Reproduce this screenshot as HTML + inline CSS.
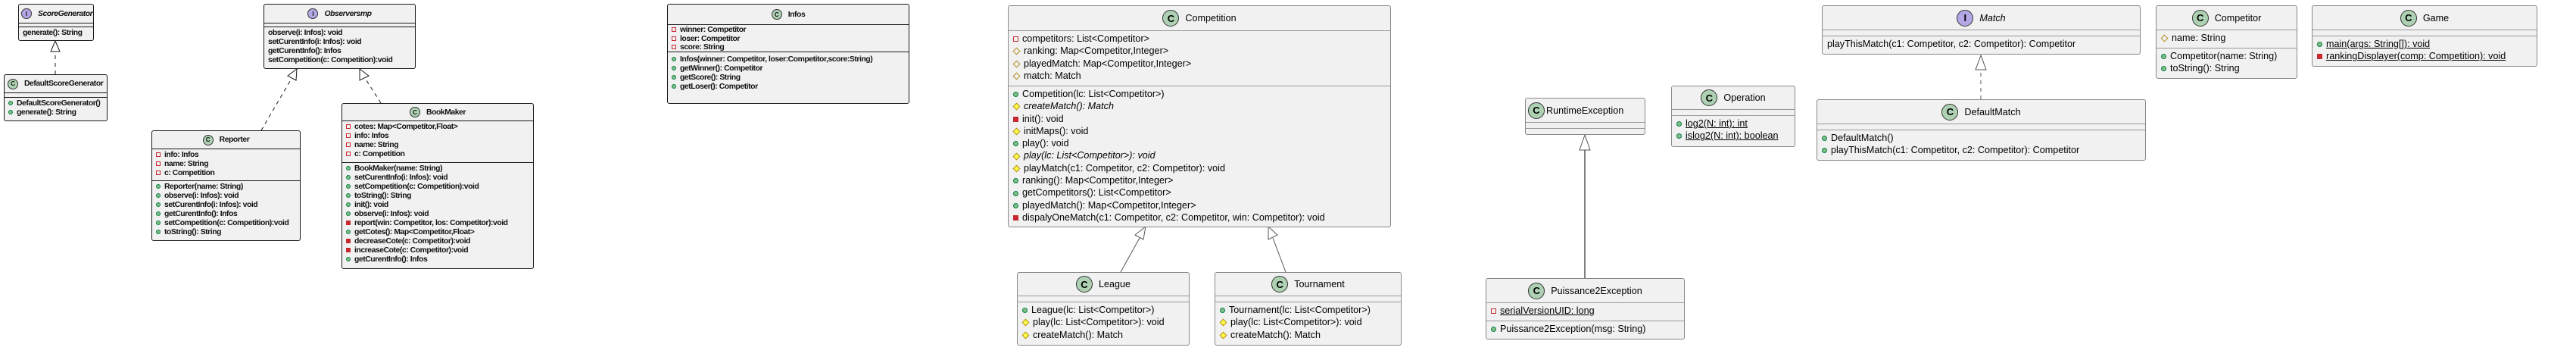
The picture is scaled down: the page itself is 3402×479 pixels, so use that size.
<!DOCTYPE html>
<html><head><meta charset="utf-8"><style>
body{margin:0;width:3402px;height:479px;background:#fff;position:relative;overflow:hidden}
.box{position:absolute;box-sizing:border-box;background:#f1f1f1;border:1px solid #181818;border-radius:3px;overflow:hidden}
.R{border-color:#888;font-family:"Liberation Sans",sans-serif;font-size:12.6px;color:#000}
.L{font-family:"Liberation Sans",sans-serif;font-weight:bold;font-size:10.4px;letter-spacing:-0.45px;color:#111}
.hd{display:flex;align-items:center;justify-content:center;box-sizing:border-box;border-bottom:1px solid #181818}
.R .hd{border-bottom-color:#999}
.sec{box-sizing:border-box;border-bottom:1px solid #181818;padding:1px 5px;white-space:nowrap}
.R .sec{border-bottom-color:#999;padding:2px 6px;line-height:16.3px}
.L .sec{line-height:12px;padding:2px 5px}
.sec:last-child{border-bottom:none}
.ic{display:inline-flex;align-items:center;justify-content:center;border-radius:50%;border:1px solid #333;font-weight:bold;margin-right:8px;font-family:"Liberation Sans",sans-serif;letter-spacing:0}
.C{background:#add1b2}.I{background:#b4a7e5}
.R .ic{width:20px;height:20px;font-size:13px}
.L .ic{width:12px;height:12px;font-size:8px}
.m{display:inline-block;vertical-align:middle;margin-right:5px;box-sizing:border-box}
.pf{width:7px;height:7px;border:1px solid #c82930}
.pm{width:7px;height:7px;background:#c82930}
.uf{width:7px;height:7px;border-radius:50%;background:#84be84;border:1px solid #038048}
.df{width:7px;height:7px;border:1px solid #b38d22;transform:rotate(45deg);margin-left:1px;margin-right:6px}
.dm{width:7px;height:7px;border:1px solid #b38d22;background:#ffff44;transform:rotate(45deg);margin-left:1px;margin-right:6px}
.L .m{width:6px;height:6px}
.it{font-style:italic}
.u{text-decoration:underline}
</style></head><body>

<svg width="3402" height="479" style="position:absolute;left:0;top:0">
<g fill="none" stroke="#181818" stroke-width="1">
<line x1="73" y1="98" x2="73" y2="68" stroke-dasharray="5,5"/>
<polygon points="73,54 67,68 79,68" fill="#fff"/>
<line x1="345" y1="172" x2="386" y2="102" stroke-dasharray="5,5"/>
<polygon points="392,91 380,100 391,106" fill="#fff"/>
<line x1="503" y1="136" x2="482" y2="103" stroke-dasharray="5,5"/>
<polygon points="475,91 475,106 487,100" fill="#fff"/>
</g>
<g fill="none" stroke="#555" stroke-width="1">
<line x1="1480" y1="359" x2="1505" y2="314"/>
<polygon points="1513,299 1499,310 1510,316" fill="#fff"/>
<line x1="1698" y1="359" x2="1681" y2="314"/>
<polygon points="1675,299 1675,316 1687,310" fill="#fff"/>
<line x1="2093" y1="367" x2="2093" y2="198" stroke-width="1.5"/>
<polygon points="2093,178 2086,198 2100,198" fill="#fff"/>
<line x1="2616" y1="131" x2="2616" y2="92" stroke-dasharray="5,5"/>
<polygon points="2616,73 2609,92 2623,92" fill="#fff"/>
</g>
</svg>

<!-- ScoreGenerator -->
<div class="box L" style="left:24px;top:5px;width:100px;height:49px">
<div class="hd" style="height:25px;justify-content:flex-start;padding-left:3px"><span class="ic I">I</span><span class="it">ScoreGenerator</span></div>
<div class="sec" style="height:5px;padding:0"></div>
<div class="sec">generate(): String</div>
</div>
<!-- DefaultScoreGenerator -->
<div class="box L" style="left:5px;top:98px;width:137px;height:62px">
<div class="hd" style="height:24px;justify-content:flex-start;padding-left:4px"><span class="ic C">C</span>DefaultScoreGenerator</div>
<div class="sec" style="height:6px;padding:0"></div>
<div class="sec"><span class="m uf"></span>DefaultScoreGenerator()<br><span class="m uf"></span>generate(): String</div>
</div>
<!-- Observersmp -->
<div class="box L" style="left:348px;top:5px;width:201px;height:86px">
<div class="hd" style="height:25px"><span class="ic I">I</span><span class="it">Observersmp</span></div>
<div class="sec" style="height:5px;padding:0"></div>
<div class="sec">observe(i: Infos): void<br>setCurentInfo(i: Infos): void<br>getCurentInfo(): Infos<br>setCompetition(c: Competition):void</div>
</div>
<!-- Reporter -->
<div class="box L" style="left:200px;top:172px;width:197px;height:146px">
<div class="hd" style="height:24px"><span class="ic C">C</span>Reporter</div>
<div class="sec" style="height:42px"><span class="m pf"></span>info: Infos<br><span class="m pf"></span>name: String<br><span class="m pf"></span>c: Competition</div>
<div class="sec"><span class="m uf"></span>Reporter(name: String)<br><span class="m uf"></span>observe(i: Infos): void<br><span class="m uf"></span>setCurentInfo(i: Infos): void<br><span class="m uf"></span>getCurentInfo(): Infos<br><span class="m uf"></span>setCompetition(c: Competition):void<br><span class="m uf"></span>toString(): String</div>
</div>
<!-- BookMaker -->
<div class="box L" style="left:451px;top:136px;width:254px;height:219px">
<div class="hd" style="height:23px"><span class="ic C">C</span>BookMaker</div>
<div class="sec" style="height:55px"><span class="m pf"></span>cotes: Map&lt;Competitor,Float&gt;<br><span class="m pf"></span>info: Infos<br><span class="m pf"></span>name: String<br><span class="m pf"></span>c: Competition</div>
<div class="sec"><span class="m uf"></span>BookMaker(name: String)<br><span class="m uf"></span>setCurentInfo(i: Infos): void<br><span class="m uf"></span>setCompetition(c: Competition):void<br><span class="m uf"></span>toString(): String<br><span class="m uf"></span>init(): void<br><span class="m uf"></span>observe(i: Infos): void<br><span class="m pm"></span>report(win: Competitor, los: Competitor):void<br><span class="m uf"></span>getCotes(): Map&lt;Competitor,Float&gt;<br><span class="m pm"></span>decreaseCote(c: Competitor):void<br><span class="m pm"></span>increaseCote(c: Competitor):void<br><span class="m uf"></span>getCurentInfo(): Infos</div>
</div>
<!-- Infos -->
<div class="box L" style="left:881px;top:5px;width:320px;height:132px">
<div class="hd" style="height:27px"><span class="ic C">C</span>Infos</div>
<div class="sec" style="height:36px;line-height:11.5px;padding:1px 5px"><span class="m pf"></span>winner: Competitor<br><span class="m pf"></span>loser: Competitor<br><span class="m pf"></span>score: String</div>
<div class="sec" style="padding-top:4px"><span class="m uf"></span>Infos(winner: Competitor, loser:Competitor,score:String)<br><span class="m uf"></span>getWinner(): Competitor<br><span class="m uf"></span>getScore(): String<br><span class="m uf"></span>getLoser(): Competitor</div>
</div>

<!-- Competition -->
<div class="box R" style="left:1331px;top:7px;width:506px;height:293px">
<div class="hd" style="height:33px"><span class="ic C">C</span>Competition</div>
<div class="sec" style="height:73px"><span class="m pf"></span>competitors: List&lt;Competitor&gt;<br><span class="m df"></span>ranking: Map&lt;Competitor,Integer&gt;<br><span class="m df"></span>playedMatch: Map&lt;Competitor,Integer&gt;<br><span class="m df"></span>match: Match</div>
<div class="sec"><span class="m uf"></span>Competition(lc: List&lt;Competitor&gt;)<br><span class="m dm"></span><span class="it">createMatch(): Match</span><br><span class="m pm"></span>init(): void<br><span class="m dm"></span>initMaps(): void<br><span class="m uf"></span>play(): void<br><span class="m dm"></span><span class="it">play(lc: List&lt;Competitor&gt;): void</span><br><span class="m dm"></span>playMatch(c1: Competitor, c2: Competitor): void<br><span class="m uf"></span>ranking(): Map&lt;Competitor,Integer&gt;<br><span class="m uf"></span>getCompetitors(): List&lt;Competitor&gt;<br><span class="m uf"></span>playedMatch(): Map&lt;Competitor,Integer&gt;<br><span class="m pm"></span>dispalyOneMatch(c1: Competitor, c2: Competitor, win: Competitor): void</div>
</div>
<!-- League -->
<div class="box R" style="left:1343px;top:359px;width:228px;height:97px">
<div class="hd" style="height:31px"><span class="ic C">C</span>League</div>
<div class="sec" style="height:8px;padding:0"></div>
<div class="sec"><span class="m uf"></span>League(lc: List&lt;Competitor&gt;)<br><span class="m dm"></span>play(lc: List&lt;Competitor&gt;): void<br><span class="m dm"></span>createMatch(): Match</div>
</div>
<!-- Tournament -->
<div class="box R" style="left:1604px;top:359px;width:247px;height:97px">
<div class="hd" style="height:31px"><span class="ic C">C</span>Tournament</div>
<div class="sec" style="height:8px;padding:0"></div>
<div class="sec"><span class="m uf"></span>Tournament(lc: List&lt;Competitor&gt;)<br><span class="m dm"></span>play(lc: List&lt;Competitor&gt;): void<br><span class="m dm"></span>createMatch(): Match</div>
</div>
<!-- RuntimeException -->
<div class="box R" style="left:2014px;top:129px;width:159px;height:49px">
<div class="hd" style="height:32px;justify-content:flex-start;padding-left:3px"><span class="ic C" style="margin-right:2px">C</span>RuntimeException</div>
<div class="sec" style="height:8px;padding:0"></div>
<div class="sec" style="padding:0"></div>
</div>
<!-- Puissance2Exception -->
<div class="box R" style="left:1962px;top:367px;width:263px;height:81px">
<div class="hd" style="height:32px"><span class="ic C">C</span>Puissance2Exception</div>
<div class="sec" style="height:24px"><span class="m pf"></span><span class="u">serialVersionUID: long</span></div>
<div class="sec"><span class="m uf"></span>Puissance2Exception(msg: String)</div>
</div>
<!-- Operation -->
<div class="box R" style="left:2207px;top:113px;width:164px;height:81px">
<div class="hd" style="height:31px"><span class="ic C">C</span>Operation</div>
<div class="sec" style="height:8px;padding:0"></div>
<div class="sec"><span class="m uf"></span><span class="u">log2(N: int): int</span><br><span class="m uf"></span><span class="u">islog2(N: int): boolean</span></div>
</div>
<!-- Match -->
<div class="box R" style="left:2406px;top:7px;width:421px;height:65px">
<div class="hd" style="height:32px"><span class="ic I">I</span><span class="it">Match</span></div>
<div class="sec" style="height:8px;padding:0"></div>
<div class="sec">playThisMatch(c1: Competitor, c2: Competitor): Competitor</div>
</div>
<!-- DefaultMatch -->
<div class="box R" style="left:2399px;top:131px;width:435px;height:81px">
<div class="hd" style="height:32px"><span class="ic C">C</span>DefaultMatch</div>
<div class="sec" style="height:8px;padding:0"></div>
<div class="sec"><span class="m uf"></span>DefaultMatch()<br><span class="m uf"></span>playThisMatch(c1: Competitor, c2: Competitor): Competitor</div>
</div>
<!-- Competitor -->
<div class="box R" style="left:2847px;top:7px;width:187px;height:97px">
<div class="hd" style="height:32px"><span class="ic C">C</span>Competitor</div>
<div class="sec" style="height:24px"><span class="m df"></span>name: String</div>
<div class="sec"><span class="m uf"></span>Competitor(name: String)<br><span class="m uf"></span>toString(): String</div>
</div>
<!-- Game -->
<div class="box R" style="left:3053px;top:7px;width:298px;height:81px">
<div class="hd" style="height:32px"><span class="ic C">C</span>Game</div>
<div class="sec" style="height:8px;padding:0"></div>
<div class="sec"><span class="m uf"></span><span class="u">main(args: String[]): void</span><br><span class="m pm"></span><span class="u">rankingDisplayer(comp: Competition): void</span></div>
</div>
</body></html>
